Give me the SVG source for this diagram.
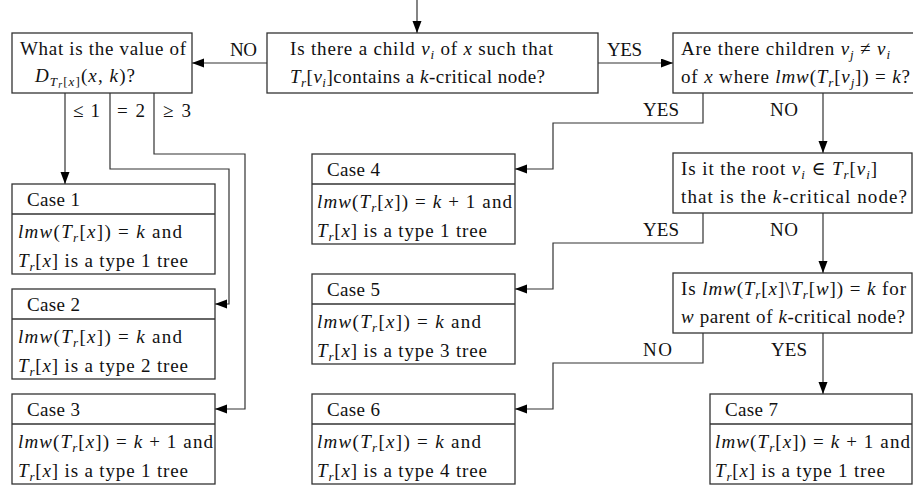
<svg xmlns="http://www.w3.org/2000/svg" width="913" height="487" viewBox="0 0 913 487">
<style>
text { font-family: 'Liberation Serif', 'DejaVu Serif', serif; font-size: 19px; fill: #111; }
.i { font-style: italic; }
.s { font-size: 13px; }
.ss { font-size: 10px; }
.box { fill: #fff; stroke: #333; stroke-width: 1.3; }
.sep { stroke: #333; stroke-width: 1.3; }
.conn { fill: none; stroke: #333; stroke-width: 1.2; marker-end: url(#ah); }
</style>
<defs>
<marker id="ah" markerUnits="userSpaceOnUse" markerWidth="13" markerHeight="10" refX="12" refY="4.5" orient="auto">
<path d="M0,0 L12,4.5 L0,9 z" fill="#000"/>
</marker>
</defs>
<rect width="913" height="487" fill="#fff"/>

<g id="connectors">
<path class="conn" d="M417,0 V33"/>
<path class="conn" d="M267,63 H192"/>
<path class="conn" d="M598,63 H673"/>
<path class="conn" d="M65,93 V184"/>
<path class="conn" d="M110,93 V169 H229 V304 H215"/>
<path class="conn" d="M154,93 V154 H245 V409 H215"/>
<path class="conn" d="M703,93 V123 H553 V169 H515"/>
<path class="conn" d="M823,93 V153"/>
<path class="conn" d="M703,213 V243 H553 V289 H515"/>
<path class="conn" d="M823,213 V273"/>
<path class="conn" d="M703,333 V363 H553 V409 H515"/>
<path class="conn" d="M823,333 V394"/>
</g>

<g id="labels" font-family="Liberation Serif, serif">
<text x="230" y="56" textLength="27">NO</text>
<text x="607" y="56" textLength="35">YES</text>
<text x="73" y="117" textLength="27">≤ 1</text>
<text x="117" y="117" textLength="28">= 2</text>
<text x="163" y="117" textLength="28">≥ 3</text>
<text x="643" y="116" textLength="36">YES</text>
<text x="770" y="116" textLength="28">NO</text>
<text x="643" y="236" textLength="36">YES</text>
<text x="770" y="236" textLength="28">NO</text>
<text x="643" y="356" textLength="29">NO</text>
<text x="771" y="356" textLength="36">YES</text>
</g>

<g id="q-value">
<rect class="box" x="12" y="33" width="180" height="60"/>
<text x="20" y="55" textLength="166">What is the value of</text>
<text x="35" y="82" textLength="100"><tspan class="i">D</tspan><tspan class="s i" dy="4">T</tspan><tspan class="ss i" dy="2">r</tspan><tspan class="s" dy="-2">[</tspan><tspan class="s i">x</tspan><tspan class="s">]</tspan><tspan dy="-4">(</tspan><tspan class="i">x</tspan>, <tspan class="i">k</tspan>)?</text>
</g>

<g id="q-child">
<rect class="box" x="267" y="33" width="331" height="60"/>
<text x="290" y="55" textLength="263">Is there a child <tspan class="i">v</tspan><tspan class="s i" dy="4">i</tspan><tspan dy="-4"> of </tspan><tspan class="i">x</tspan> such that</text>
<text x="290" y="83" textLength="255"><tspan class="i">T</tspan><tspan class="s i" dy="4">r</tspan><tspan dy="-4">[</tspan><tspan class="i">v</tspan><tspan class="s i" dy="4">i</tspan><tspan dy="-4">]contains a </tspan><tspan class="i">k</tspan>-critical node?</text>
</g>

<g id="q-children">
<rect class="box" x="673" y="33" width="250" height="60"/>
<text x="681" y="55" textLength="209">Are there children <tspan class="i">v</tspan><tspan class="s i" dy="4">j</tspan><tspan dy="-4"> ≠ </tspan><tspan class="i">v</tspan><tspan class="s i" dy="4">i</tspan></text>
<text x="681" y="83" textLength="229">of <tspan class="i">x</tspan> where <tspan class="i">lmw</tspan>(<tspan class="i">T</tspan><tspan class="s i" dy="4">r</tspan><tspan dy="-4">[</tspan><tspan class="i">v</tspan><tspan class="s i" dy="4">j</tspan><tspan dy="-4">]) = </tspan><tspan class="i">k</tspan>?</text>
</g>

<g id="q-root">
<rect class="box" x="673" y="153" width="239" height="60"/>
<text x="681" y="175" textLength="196">Is it the root <tspan class="i">v</tspan><tspan class="s i" dy="4">i</tspan><tspan dy="-4"> ∈ </tspan><tspan class="i">T</tspan><tspan class="s i" dy="4">r</tspan><tspan dy="-4">[</tspan><tspan class="i">v</tspan><tspan class="s i" dy="4">i</tspan><tspan dy="-4">]</tspan></text>
<text x="681" y="203" textLength="226">that is the <tspan class="i">k</tspan>-critical node?</text>
</g>

<g id="q-lmw">
<rect class="box" x="673" y="273" width="239" height="60"/>
<text x="681" y="295" textLength="225">Is <tspan class="i">lmw</tspan>(<tspan class="i">T</tspan><tspan class="s i" dy="4">r</tspan><tspan dy="-4">[</tspan><tspan class="i">x</tspan>]\<tspan class="i">T</tspan><tspan class="s i" dy="4">r</tspan><tspan dy="-4">[</tspan><tspan class="i">w</tspan>]) = <tspan class="i">k</tspan> for</text>
<text x="681" y="323" textLength="224"><tspan class="i">w</tspan> parent of <tspan class="i">k</tspan>-critical node?</text>
</g>

<g id="case1">
<rect class="box" x="12" y="184" width="203" height="90"/>
<line class="sep" x1="12" y1="214" x2="215" y2="214"/>
<text x="27" y="206" textLength="53">Case 1</text>
<text x="18" y="238" textLength="164"><tspan class="i">lmw</tspan>(<tspan class="i">T</tspan><tspan class="s i" dy="4">r</tspan><tspan dy="-4">[</tspan><tspan class="i">x</tspan>]) = <tspan class="i">k</tspan> and</text>
<text x="18" y="267" textLength="170"><tspan class="i">T</tspan><tspan class="s i" dy="4">r</tspan><tspan dy="-4">[</tspan><tspan class="i">x</tspan>] is a type 1 tree</text>
</g>

<g id="case2">
<rect class="box" x="12" y="289" width="203" height="90"/>
<line class="sep" x1="12" y1="319" x2="215" y2="319"/>
<text x="27" y="311" textLength="53">Case 2</text>
<text x="18" y="343" textLength="164"><tspan class="i">lmw</tspan>(<tspan class="i">T</tspan><tspan class="s i" dy="4">r</tspan><tspan dy="-4">[</tspan><tspan class="i">x</tspan>]) = <tspan class="i">k</tspan> and</text>
<text x="18" y="372" textLength="170"><tspan class="i">T</tspan><tspan class="s i" dy="4">r</tspan><tspan dy="-4">[</tspan><tspan class="i">x</tspan>] is a type 2 tree</text>
</g>

<g id="case3">
<rect class="box" x="12" y="394" width="203" height="90"/>
<line class="sep" x1="12" y1="424" x2="215" y2="424"/>
<text x="27" y="416" textLength="53">Case 3</text>
<text x="18" y="448" textLength="195"><tspan class="i">lmw</tspan>(<tspan class="i">T</tspan><tspan class="s i" dy="4">r</tspan><tspan dy="-4">[</tspan><tspan class="i">x</tspan>]) = <tspan class="i">k</tspan> + 1 and</text>
<text x="18" y="477" textLength="170"><tspan class="i">T</tspan><tspan class="s i" dy="4">r</tspan><tspan dy="-4">[</tspan><tspan class="i">x</tspan>] is a type 1 tree</text>
</g>

<g id="case4">
<rect class="box" x="312" y="154" width="203" height="90"/>
<line class="sep" x1="312" y1="184" x2="515" y2="184"/>
<text x="327" y="176" textLength="53">Case 4</text>
<text x="317" y="208" textLength="195"><tspan class="i">lmw</tspan>(<tspan class="i">T</tspan><tspan class="s i" dy="4">r</tspan><tspan dy="-4">[</tspan><tspan class="i">x</tspan>]) = <tspan class="i">k</tspan> + 1 and</text>
<text x="317" y="237" textLength="170"><tspan class="i">T</tspan><tspan class="s i" dy="4">r</tspan><tspan dy="-4">[</tspan><tspan class="i">x</tspan>] is a type 1 tree</text>
</g>

<g id="case5">
<rect class="box" x="312" y="274" width="203" height="90"/>
<line class="sep" x1="312" y1="304" x2="515" y2="304"/>
<text x="327" y="296" textLength="53">Case 5</text>
<text x="317" y="328" textLength="164"><tspan class="i">lmw</tspan>(<tspan class="i">T</tspan><tspan class="s i" dy="4">r</tspan><tspan dy="-4">[</tspan><tspan class="i">x</tspan>]) = <tspan class="i">k</tspan> and</text>
<text x="317" y="357" textLength="170"><tspan class="i">T</tspan><tspan class="s i" dy="4">r</tspan><tspan dy="-4">[</tspan><tspan class="i">x</tspan>] is a type 3 tree</text>
</g>

<g id="case6">
<rect class="box" x="312" y="394" width="203" height="90"/>
<line class="sep" x1="312" y1="424" x2="515" y2="424"/>
<text x="327" y="416" textLength="53">Case 6</text>
<text x="317" y="448" textLength="164"><tspan class="i">lmw</tspan>(<tspan class="i">T</tspan><tspan class="s i" dy="4">r</tspan><tspan dy="-4">[</tspan><tspan class="i">x</tspan>]) = <tspan class="i">k</tspan> and</text>
<text x="317" y="477" textLength="170"><tspan class="i">T</tspan><tspan class="s i" dy="4">r</tspan><tspan dy="-4">[</tspan><tspan class="i">x</tspan>] is a type 4 tree</text>
</g>

<g id="case7">
<rect class="box" x="710" y="394" width="202" height="90"/>
<line class="sep" x1="710" y1="424" x2="912" y2="424"/>
<text x="725" y="416" textLength="53">Case 7</text>
<text x="715" y="448" textLength="195"><tspan class="i">lmw</tspan>(<tspan class="i">T</tspan><tspan class="s i" dy="4">r</tspan><tspan dy="-4">[</tspan><tspan class="i">x</tspan>]) = <tspan class="i">k</tspan> + 1 and</text>
<text x="715" y="477" textLength="170"><tspan class="i">T</tspan><tspan class="s i" dy="4">r</tspan><tspan dy="-4">[</tspan><tspan class="i">x</tspan>] is a type 1 tree</text>
</g>
</svg>
